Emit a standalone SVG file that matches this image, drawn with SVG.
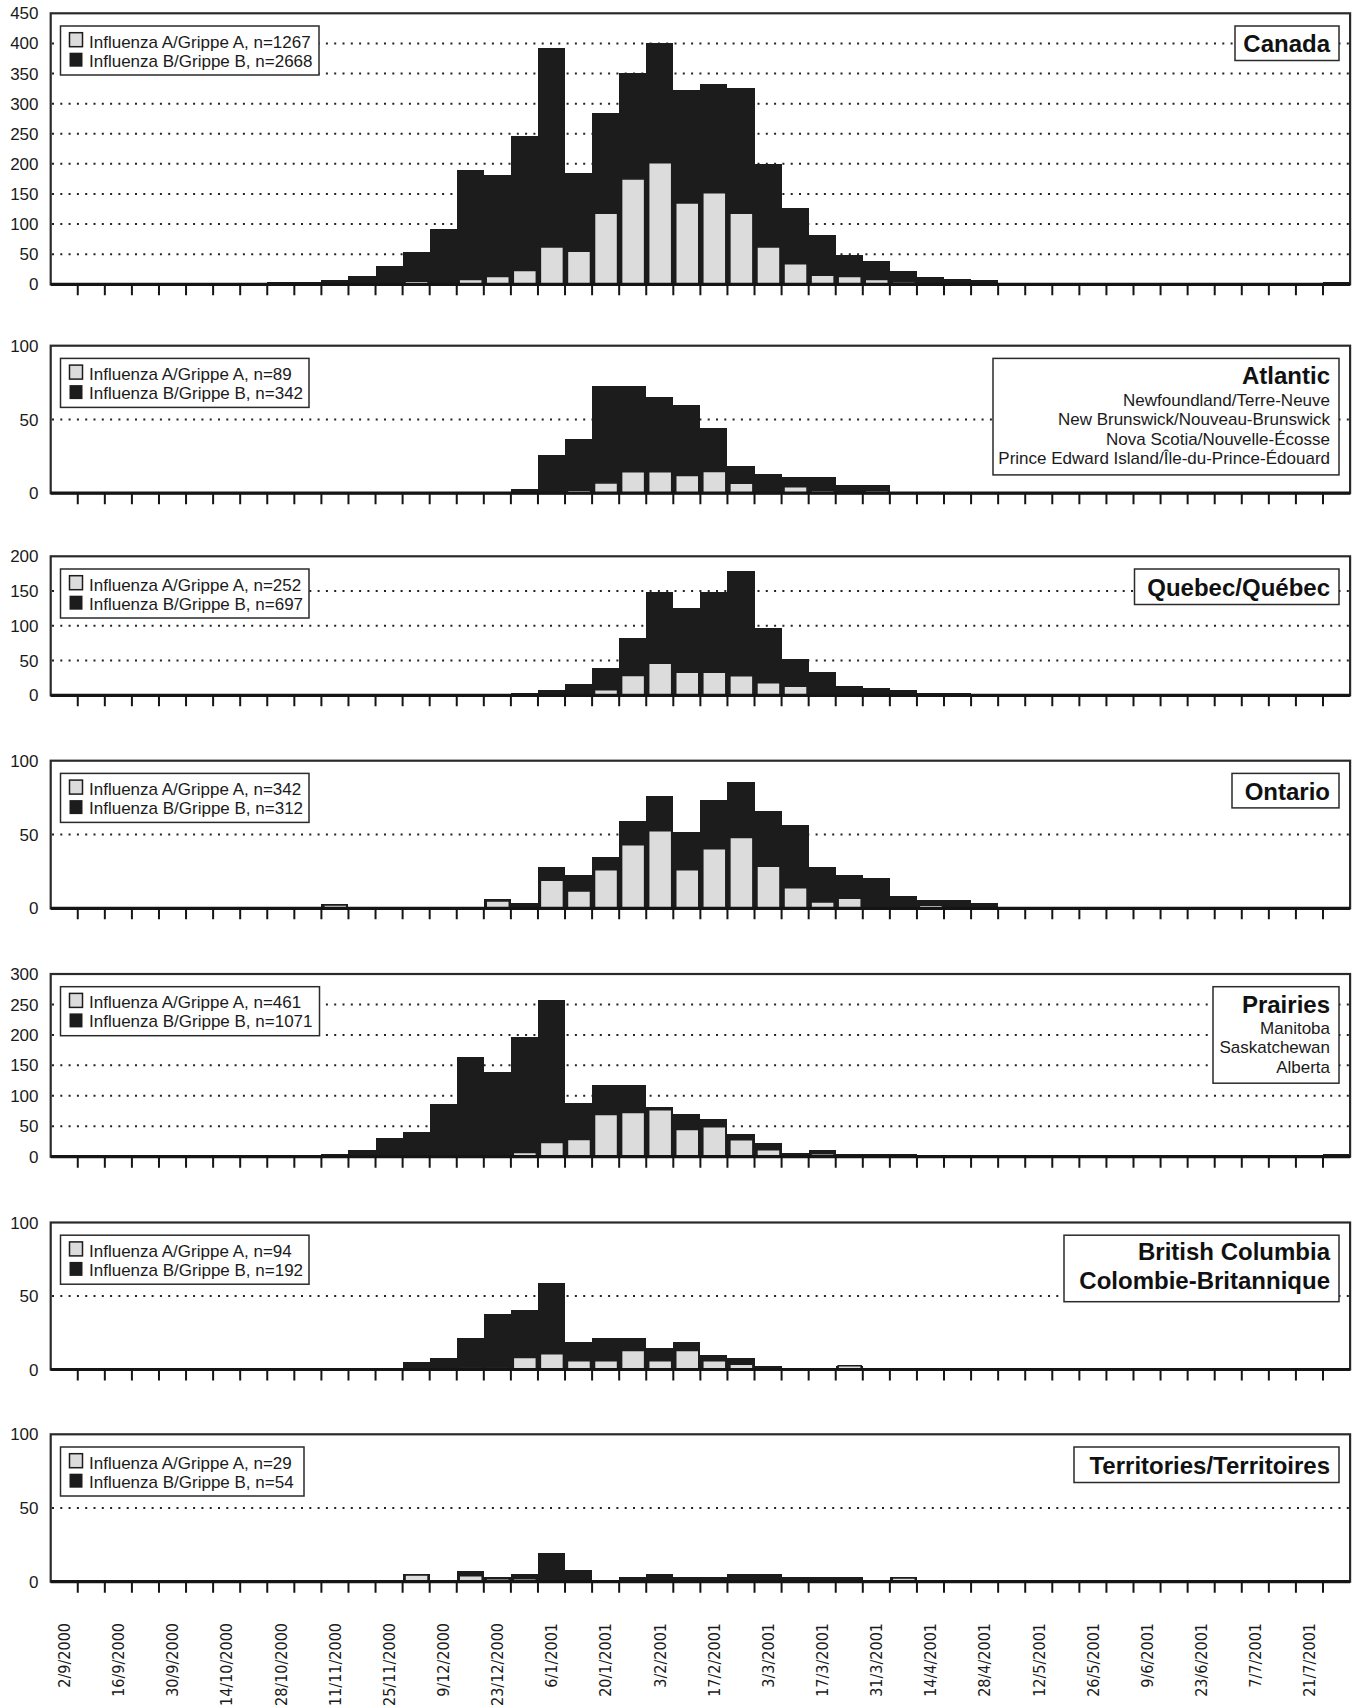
<svg xmlns="http://www.w3.org/2000/svg" xmlns:xlink="http://www.w3.org/1999/xlink" width="1356" height="1707" viewBox="0 0 1356 1707">
<style>
.bg{fill:#fff}
.frame{fill:none;stroke:#2a2a2a;stroke-width:2.2}
.axis{stroke:#151515;stroke-width:3.2}
.tick{fill:none;stroke:#151515;stroke-width:2}
.grid{fill:none;stroke:#222;stroke-width:2;stroke-dasharray:2 6.3}
.blk rect{fill:#1c1c1c;shape-rendering:crispEdges}
.lt rect{fill:#dcdcdc;stroke:#1c1c1c;stroke-width:1.5;vector-effect:non-scaling-stroke}
.box{fill:#fff;stroke:#2a2a2a;stroke-width:1.5}
.swA{fill:#dcdcdc;stroke:#1c1c1c;stroke-width:1.5}
.swB{fill:#1c1c1c}
.lg{font-family:"Liberation Sans",Arial,sans-serif;font-size:17px;fill:#1a1a1a}
.sub{font-family:"Liberation Sans",Arial,sans-serif;font-size:17px;fill:#1a1a1a;text-anchor:end}
.ti{font-family:"Liberation Sans",Arial,sans-serif;font-size:24px;font-weight:bold;fill:#111;text-anchor:end}
.yl{font-family:"Liberation Sans",Arial,sans-serif;font-size:17px;fill:#1a1a1a;text-anchor:end}
.dl{font-family:"DejaVu Sans Condensed","DejaVu Sans",sans-serif;font-size:16px;fill:#1a1a1a;text-anchor:end}
</style>
<defs>
<path id="ticks" class="tick" d="M77.77 0v11m27.07-11v11m27.07-11v11m27.07-11v11m27.07-11v11m27.07-11v11m27.07-11v11m27.07-11v11m27.07-11v11m27.07-11v11m27.07-11v11m27.07-11v11m27.07-11v11m27.07-11v11m27.07-11v11m27.07-11v11m27.07-11v11m27.07-11v11m27.07-11v11m27.07-11v11m27.07-11v11m27.07-11v11m27.07-11v11m27.07-11v11m27.07-11v11m27.07-11v11m27.07-11v11m27.07-11v11m27.07-11v11m27.07-11v11m27.07-11v11m27.07-11v11m27.07-11v11m27.07-11v11m27.07-11v11m27.07-11v11m27.07-11v11m27.07-11v11m27.07-11v11m27.07-11v11m27.07-11v11m27.07-11v11m27.07-11v11m27.07-11v11m27.07-11v11m27.07-11v11m27.07-11v11"/>
</defs>
<rect class="bg" x="0" y="0" width="1356" height="1707"/>

<!-- CANADA -->
<g id="panel-canada">
<path class="grid" d="M52 254.19H1349M52 224.08H1349M52 193.97H1349M52 163.86H1349M52 133.75H1349M52 103.64H1349M52 73.53H1349M52 43.42H1349"/>
<g class="blk" transform="translate(50.7 284.3) scale(27.07 -0.6022)">
<rect x="8" y="0" width="1" height="3"/><rect x="9" y="0" width="1" height="3"/><rect x="10" y="0" width="1" height="7"/><rect x="11" y="0" width="1" height="14"/><rect x="12" y="0" width="1" height="31"/><rect x="13" y="0" width="1" height="54"/><rect x="14" y="0" width="1" height="92"/><rect x="15" y="0" width="1" height="190"/><rect x="16" y="0" width="1" height="182"/><rect x="17" y="0" width="1" height="247"/><rect x="18" y="0" width="1" height="392"/><rect x="19" y="0" width="1" height="184"/><rect x="20" y="0" width="1" height="284"/><rect x="21" y="0" width="1" height="351"/><rect x="22" y="0" width="1" height="401"/><rect x="23" y="0" width="1" height="322"/><rect x="24" y="0" width="1" height="333"/><rect x="25" y="0" width="1" height="326"/><rect x="26" y="0" width="1" height="200"/><rect x="27" y="0" width="1" height="127"/><rect x="28" y="0" width="1" height="82"/><rect x="29" y="0" width="1" height="49"/><rect x="30" y="0" width="1" height="39"/><rect x="31" y="0" width="1" height="22"/><rect x="32" y="0" width="1" height="12"/><rect x="33" y="0" width="1" height="9"/><rect x="34" y="0" width="1" height="7"/><rect x="47" y="0" width="1" height="4"/>
</g>
<g class="lt" transform="translate(50.7 284.3) scale(27.07 -0.6022)">
<rect x="13.09" y="0" width="0.85" height="5"/><rect x="15.09" y="0" width="0.85" height="8"/><rect x="16.09" y="0" width="0.85" height="13"/><rect x="17.09" y="0" width="0.85" height="23"/><rect x="18.09" y="0" width="0.85" height="62"/><rect x="19.09" y="0" width="0.85" height="55"/><rect x="20.09" y="0" width="0.85" height="118"/><rect x="21.09" y="0" width="0.85" height="175"/><rect x="22.09" y="0" width="0.85" height="202"/><rect x="23.09" y="0" width="0.85" height="135"/><rect x="24.09" y="0" width="0.85" height="152"/><rect x="25.09" y="0" width="0.85" height="118"/><rect x="26.09" y="0" width="0.85" height="62"/><rect x="27.09" y="0" width="0.85" height="34"/><rect x="28.09" y="0" width="0.85" height="15"/><rect x="29.09" y="0" width="0.85" height="13"/><rect x="30.09" y="0" width="0.85" height="8"/><rect x="31.09" y="0" width="0.85" height="4"/><rect x="32.09" y="0" width="0.85" height="3"/><rect x="33.09" y="0" width="0.85" height="2"/>
</g>
<g transform="translate(0 26)">
<rect class="box" x="60.5" y="0" width="258.5" height="49"/>
<rect class="swA" x="69.5" y="6.7" width="13" height="14"/><rect class="swB" x="69.5" y="26.7" width="13" height="14"/>
<text class="lg" x="89" y="21.7">Influenza A/Grippe A, n=1267</text>
<text class="lg" x="89" y="40.7">Influenza B/Grippe B, n=2668</text>
</g>
<g transform="translate(0 26)">
<rect class="box" x="1235" y="0" width="104" height="34.5"/>
<text class="ti" x="1330" y="26">Canada</text>
</g>
<rect class="frame" x="50.7" y="13.3" width="1299.4" height="271"/>
<line class="axis" x1="50.7" y1="284.3" x2="1350.1" y2="284.3"/>
<use xlink:href="#ticks" href="#ticks" transform="translate(0 284.3)"/>
<text class="yl" x="38.5" y="290.3">0</text><text class="yl" x="38.5" y="260.2">50</text><text class="yl" x="38.5" y="230.1">100</text><text class="yl" x="38.5" y="200">150</text><text class="yl" x="38.5" y="169.9">200</text><text class="yl" x="38.5" y="139.8">250</text><text class="yl" x="38.5" y="109.6">300</text><text class="yl" x="38.5" y="79.5">350</text><text class="yl" x="38.5" y="49.4">400</text><text class="yl" x="38.5" y="19.3">450</text>
</g>

<!-- ATLANTIC -->
<g id="panel-atlantic">
<path class="grid" d="M52 419.45H1349"/>
<g class="blk" transform="translate(50.7 493.2) scale(27.07 -1.475)">
<rect x="17" y="0" width="1" height="3"/><rect x="18" y="0" width="1" height="26"/><rect x="19" y="0" width="1" height="37"/><rect x="20" y="0" width="1" height="73"/><rect x="21" y="0" width="1" height="73"/><rect x="22" y="0" width="1" height="65"/><rect x="23" y="0" width="1" height="60"/><rect x="24" y="0" width="1" height="44"/><rect x="25" y="0" width="1" height="18.5"/><rect x="26" y="0" width="1" height="13.3"/><rect x="27" y="0" width="1" height="10.9"/><rect x="28" y="0" width="1" height="10.9"/><rect x="29" y="0" width="1" height="5.7"/><rect x="30" y="0" width="1" height="5.7"/>
</g>
<g class="lt" transform="translate(50.7 493.2) scale(27.07 -1.475)">
<rect x="19.09" y="0" width="0.85" height="2"/><rect x="20.09" y="0" width="0.85" height="7"/><rect x="21.09" y="0" width="0.85" height="14.5"/><rect x="22.09" y="0" width="0.85" height="14.5"/><rect x="23.09" y="0" width="0.85" height="12"/><rect x="24.09" y="0" width="0.85" height="14.7"/><rect x="25.09" y="0" width="0.85" height="6.8"/><rect x="27.09" y="0" width="0.85" height="4.3"/><rect x="28.09" y="0" width="0.85" height="1.6"/><rect x="30.09" y="0" width="0.85" height="1.6"/>
</g>
<g transform="translate(0 358.4)">
<rect class="box" x="60.5" y="0" width="248.5" height="49"/>
<rect class="swA" x="69.5" y="6.7" width="13" height="14"/><rect class="swB" x="69.5" y="26.7" width="13" height="14"/>
<text class="lg" x="89" y="21.7">Influenza A/Grippe A, n=89</text>
<text class="lg" x="89" y="40.7">Influenza B/Grippe B, n=342</text>
</g>
<g transform="translate(0 358.4)">
<rect class="box" x="993" y="0" width="346" height="116.5"/>
<text class="ti" x="1330" y="26">Atlantic</text>
<text class="sub" x="1330" y="47.5">Newfoundland/Terre-Neuve</text>
<text class="sub" x="1330" y="67">New Brunswick/Nouveau-Brunswick</text>
<text class="sub" x="1330" y="86.5">Nova Scotia/Nouvelle-Écosse</text>
<text class="sub" x="1330" y="106">Prince Edward Island/Île-du-Prince-Édouard</text>
</g>
<rect class="frame" x="50.7" y="345.7" width="1299.4" height="147.5"/>
<line class="axis" x1="50.7" y1="493.2" x2="1350.1" y2="493.2"/>
<use xlink:href="#ticks" href="#ticks" transform="translate(0 493.2)"/>
<text class="yl" x="38.5" y="499.2">0</text><text class="yl" x="38.5" y="425.5">50</text><text class="yl" x="38.5" y="351.7">100</text>
</g>

<!-- QUEBEC -->
<g id="panel-quebec">
<path class="grid" d="M52 660.55H1349M52 625.8H1349M52 591.05H1349"/>
<g class="blk" transform="translate(50.7 695.3) scale(27.07 -0.695)">
<rect x="17" y="0" width="1" height="3"/><rect x="18" y="0" width="1" height="8"/><rect x="19" y="0" width="1" height="16"/><rect x="20" y="0" width="1" height="39"/><rect x="21" y="0" width="1" height="82"/><rect x="22" y="0" width="1" height="148"/><rect x="23" y="0" width="1" height="126"/><rect x="24" y="0" width="1" height="148"/><rect x="25" y="0" width="1" height="179"/><rect x="26" y="0" width="1" height="97"/><rect x="27" y="0" width="1" height="52"/><rect x="28" y="0" width="1" height="34"/><rect x="29" y="0" width="1" height="13.5"/><rect x="30" y="0" width="1" height="11"/><rect x="31" y="0" width="1" height="8"/><rect x="32" y="0" width="1" height="3.5"/><rect x="33" y="0" width="1" height="3"/>
</g>
<g class="lt" transform="translate(50.7 695.3) scale(27.07 -0.695)">
<rect x="18.09" y="0" width="0.85" height="2.5"/><rect x="19.09" y="0" width="0.85" height="3"/><rect x="20.09" y="0" width="0.85" height="8"/><rect x="21.09" y="0" width="0.85" height="28.5"/><rect x="22.09" y="0" width="0.85" height="46"/><rect x="23.09" y="0" width="0.85" height="33"/><rect x="24.09" y="0" width="0.85" height="33"/><rect x="25.09" y="0" width="0.85" height="28"/><rect x="26.09" y="0" width="0.85" height="18"/><rect x="27.09" y="0" width="0.85" height="13"/><rect x="30.09" y="0" width="0.85" height="2.5"/>
</g>
<g transform="translate(0 569)">
<rect class="box" x="60.5" y="0" width="248.5" height="49"/>
<rect class="swA" x="69.5" y="6.7" width="13" height="14"/><rect class="swB" x="69.5" y="26.7" width="13" height="14"/>
<text class="lg" x="89" y="21.7">Influenza A/Grippe A, n=252</text>
<text class="lg" x="89" y="40.7">Influenza B/Grippe B, n=697</text>
</g>
<g transform="translate(0 569)">
<rect class="box" x="1134.5" y="0" width="204.5" height="35.5"/>
<text class="ti" x="1330" y="27">Quebec/Québec</text>
</g>
<rect class="frame" x="50.7" y="556.3" width="1299.4" height="139"/>
<line class="axis" x1="50.7" y1="695.3" x2="1350.1" y2="695.3"/>
<use xlink:href="#ticks" href="#ticks" transform="translate(0 695.3)"/>
<text class="yl" x="38.5" y="701.3">0</text><text class="yl" x="38.5" y="666.6">50</text><text class="yl" x="38.5" y="631.8">100</text><text class="yl" x="38.5" y="597.1">150</text><text class="yl" x="38.5" y="562.3">200</text>
</g>

<!-- ONTARIO -->
<g id="panel-ontario">
<path class="grid" d="M52 834.5H1349"/>
<g class="blk" transform="translate(50.7 908.3) scale(27.07 -1.476)">
<rect x="10" y="0" width="1" height="3"/><rect x="16" y="0" width="1" height="6"/><rect x="17" y="0" width="1" height="3.4"/><rect x="18" y="0" width="1" height="27.8"/><rect x="19" y="0" width="1" height="22.6"/><rect x="20" y="0" width="1" height="34.8"/><rect x="21" y="0" width="1" height="59"/><rect x="22" y="0" width="1" height="76"/><rect x="23" y="0" width="1" height="52"/><rect x="24" y="0" width="1" height="73.6"/><rect x="25" y="0" width="1" height="85.8"/><rect x="26" y="0" width="1" height="66"/><rect x="27" y="0" width="1" height="56.7"/><rect x="28" y="0" width="1" height="27.8"/><rect x="29" y="0" width="1" height="22.8"/><rect x="30" y="0" width="1" height="20.3"/><rect x="31" y="0" width="1" height="8.4"/><rect x="32" y="0" width="1" height="5.6"/><rect x="33" y="0" width="1" height="5.6"/><rect x="34" y="0" width="1" height="3.4"/>
</g>
<g class="lt" transform="translate(50.7 908.3) scale(27.07 -1.476)">
<rect x="10.09" y="0" width="0.85" height="2.2"/><rect x="16.09" y="0" width="0.85" height="5"/><rect x="18.09" y="0" width="0.85" height="19"/><rect x="19.09" y="0" width="0.85" height="11.7"/><rect x="20.09" y="0" width="0.85" height="26.2"/><rect x="21.09" y="0" width="0.85" height="43"/><rect x="22.09" y="0" width="0.85" height="52.6"/><rect x="23.09" y="0" width="0.85" height="26.2"/><rect x="24.09" y="0" width="0.85" height="40.4"/><rect x="25.09" y="0" width="0.85" height="47.9"/><rect x="26.09" y="0" width="0.85" height="28.5"/><rect x="27.09" y="0" width="0.85" height="14"/><rect x="28.09" y="0" width="0.85" height="4.3"/><rect x="29.09" y="0" width="0.85" height="6.8"/><rect x="32.09" y="0" width="0.85" height="2"/>
</g>
<g transform="translate(0 773.4)">
<rect class="box" x="60.5" y="0" width="248.5" height="49"/>
<rect class="swA" x="69.5" y="6.7" width="13" height="14"/><rect class="swB" x="69.5" y="26.7" width="13" height="14"/>
<text class="lg" x="89" y="21.7">Influenza A/Grippe A, n=342</text>
<text class="lg" x="89" y="40.7">Influenza B/Grippe B, n=312</text>
</g>
<g transform="translate(0 773.4)">
<rect class="box" x="1232" y="0" width="107" height="34.5"/>
<text class="ti" x="1330" y="26.5">Ontario</text>
</g>
<rect class="frame" x="50.7" y="760.7" width="1299.4" height="147.6"/>
<line class="axis" x1="50.7" y1="908.3" x2="1350.1" y2="908.3"/>
<use xlink:href="#ticks" href="#ticks" transform="translate(0 908.3)"/>
<text class="yl" x="38.5" y="914.3">0</text><text class="yl" x="38.5" y="840.5">50</text><text class="yl" x="38.5" y="766.7">100</text>
</g>

<!-- PRAIRIES -->
<g id="panel-prairies">
<path class="grid" d="M52 1126.25H1349M52 1095.8H1349M52 1065.35H1349M52 1034.9H1349M52 1004.45H1349"/>
<g class="blk" transform="translate(50.7 1156.7) scale(27.07 -0.609)">
<rect x="10" y="0" width="1" height="3.8"/><rect x="11" y="0" width="1" height="11"/><rect x="12" y="0" width="1" height="30"/><rect x="13" y="0" width="1" height="41"/><rect x="14" y="0" width="1" height="86"/><rect x="15" y="0" width="1" height="164.5"/><rect x="16" y="0" width="1" height="139"/><rect x="17" y="0" width="1" height="197"/><rect x="18" y="0" width="1" height="258"/><rect x="19" y="0" width="1" height="87.4"/><rect x="20" y="0" width="1" height="118"/><rect x="21" y="0" width="1" height="118"/><rect x="22" y="0" width="1" height="81"/><rect x="23" y="0" width="1" height="69.4"/><rect x="24" y="0" width="1" height="61.7"/><rect x="25" y="0" width="1" height="36.6"/><rect x="26" y="0" width="1" height="22.4"/><rect x="27" y="0" width="1" height="6.6"/><rect x="28" y="0" width="1" height="10.4"/><rect x="29" y="0" width="1" height="3.8"/><rect x="30" y="0" width="1" height="3.8"/><rect x="31" y="0" width="1" height="3.8"/><rect x="47" y="0" width="1" height="3.8"/>
</g>
<g class="lt" transform="translate(50.7 1156.7) scale(27.07 -0.609)">
<rect x="16.09" y="0" width="0.85" height="2.7"/><rect x="17.09" y="0" width="0.85" height="7"/><rect x="18.09" y="0" width="0.85" height="23.5"/><rect x="19.09" y="0" width="0.85" height="28.4"/><rect x="20.09" y="0" width="0.85" height="69.4"/><rect x="21.09" y="0" width="0.85" height="72.7"/><rect x="22.09" y="0" width="0.85" height="77"/><rect x="23.09" y="0" width="0.85" height="44.8"/><rect x="24.09" y="0" width="0.85" height="49"/><rect x="25.09" y="0" width="0.85" height="27.9"/><rect x="26.09" y="0" width="0.85" height="11.5"/><rect x="27.09" y="0" width="0.85" height="3.8"/><rect x="28.09" y="0" width="0.85" height="4.9"/>
</g>
<g transform="translate(0 986.7)">
<rect class="box" x="60.5" y="0" width="259" height="49"/>
<rect class="swA" x="69.5" y="6.7" width="13" height="14"/><rect class="swB" x="69.5" y="26.7" width="13" height="14"/>
<text class="lg" x="89" y="21.7">Influenza A/Grippe A, n=461</text>
<text class="lg" x="89" y="40.7">Influenza B/Grippe B, n=1071</text>
</g>
<g transform="translate(0 986.7)">
<rect class="box" x="1213" y="0" width="126" height="96.5"/>
<text class="ti" x="1330" y="26">Prairies</text>
<text class="sub" x="1330" y="47">Manitoba</text>
<text class="sub" x="1330" y="66.5">Saskatchewan</text>
<text class="sub" x="1330" y="86">Alberta</text>
</g>
<rect class="frame" x="50.7" y="974" width="1299.4" height="182.7"/>
<line class="axis" x1="50.7" y1="1156.7" x2="1350.1" y2="1156.7"/>
<use xlink:href="#ticks" href="#ticks" transform="translate(0 1156.7)"/>
<text class="yl" x="38.5" y="1162.7">0</text><text class="yl" x="38.5" y="1132.3">50</text><text class="yl" x="38.5" y="1101.8">100</text><text class="yl" x="38.5" y="1071.4">150</text><text class="yl" x="38.5" y="1040.9">200</text><text class="yl" x="38.5" y="1010.5">250</text><text class="yl" x="38.5" y="980">300</text>
</g>

<!-- BRITISH COLUMBIA -->
<g id="panel-bc">
<path class="grid" d="M52 1296H1349"/>
<g class="blk" transform="translate(50.7 1369.5) scale(27.07 -1.47)">
<rect x="13" y="0" width="1" height="5"/><rect x="14" y="0" width="1" height="7.5"/><rect x="15" y="0" width="1" height="21.6"/><rect x="16" y="0" width="1" height="37.7"/><rect x="17" y="0" width="1" height="40.2"/><rect x="18" y="0" width="1" height="58.9"/><rect x="19" y="0" width="1" height="19"/><rect x="20" y="0" width="1" height="21.4"/><rect x="21" y="0" width="1" height="21.4"/><rect x="22" y="0" width="1" height="14.5"/><rect x="23" y="0" width="1" height="19"/><rect x="24" y="0" width="1" height="9.8"/><rect x="25" y="0" width="1" height="7.5"/><rect x="26" y="0" width="1" height="2.7"/><rect x="29" y="0" width="1" height="2.7"/>
</g>
<g class="lt" transform="translate(50.7 1369.5) scale(27.07 -1.47)">
<rect x="15.09" y="0" width="0.85" height="1.1"/><rect x="16.09" y="0" width="0.85" height="1.1"/><rect x="17.09" y="0" width="0.85" height="8.2"/><rect x="18.09" y="0" width="0.85" height="10.7"/><rect x="19.09" y="0" width="0.85" height="5.9"/><rect x="20.09" y="0" width="0.85" height="5.9"/><rect x="21.09" y="0" width="0.85" height="13"/><rect x="22.09" y="0" width="0.85" height="5.9"/><rect x="23.09" y="0" width="0.85" height="13"/><rect x="24.09" y="0" width="0.85" height="5.9"/><rect x="25.09" y="0" width="0.85" height="3.6"/><rect x="26.09" y="0" width="0.85" height="1.5"/><rect x="29.09" y="0" width="0.85" height="2.5"/>
</g>
<g transform="translate(0 1235.2)">
<rect class="box" x="60.5" y="0" width="248.5" height="49"/>
<rect class="swA" x="69.5" y="6.7" width="13" height="14"/><rect class="swB" x="69.5" y="26.7" width="13" height="14"/>
<text class="lg" x="89" y="21.7">Influenza A/Grippe A, n=94</text>
<text class="lg" x="89" y="40.7">Influenza B/Grippe B, n=192</text>
</g>
<g transform="translate(0 1235.2)">
<rect class="box" x="1064" y="0" width="275" height="66.5"/>
<text class="ti" x="1330" y="25">British Columbia</text>
<text class="ti" x="1330" y="54">Colombie-Britannique</text>
</g>
<rect class="frame" x="50.7" y="1222.5" width="1299.4" height="147"/>
<line class="axis" x1="50.7" y1="1369.5" x2="1350.1" y2="1369.5"/>
<use xlink:href="#ticks" href="#ticks" transform="translate(0 1369.5)"/>
<text class="yl" x="38.5" y="1375.5">0</text><text class="yl" x="38.5" y="1302">50</text><text class="yl" x="38.5" y="1228.5">100</text>
</g>

<!-- TERRITORIES -->
<g id="panel-territories">
<path class="grid" d="M52 1508H1349"/>
<g class="blk" transform="translate(50.7 1581.7) scale(27.07 -1.474)">
<rect x="13" y="0" width="1" height="5.2"/><rect x="15" y="0" width="1" height="7.5"/><rect x="16" y="0" width="1" height="2.9"/><rect x="17" y="0" width="1" height="5.2"/><rect x="18" y="0" width="1" height="19.2"/><rect x="19" y="0" width="1" height="7.7"/><rect x="21" y="0" width="1" height="2.9"/><rect x="22" y="0" width="1" height="5.2"/><rect x="23" y="0" width="1" height="2.9"/><rect x="24" y="0" width="1" height="2.9"/><rect x="25" y="0" width="1" height="5.2"/><rect x="26" y="0" width="1" height="5.2"/><rect x="27" y="0" width="1" height="2.9"/><rect x="28" y="0" width="1" height="2.9"/><rect x="29" y="0" width="1" height="2.9"/><rect x="31" y="0" width="1" height="2.9"/>
</g>
<g class="lt" transform="translate(50.7 1581.7) scale(27.07 -1.474)">
<rect x="13.09" y="0" width="0.85" height="4.5"/><rect x="15.09" y="0" width="0.85" height="4"/><rect x="16.09" y="0" width="0.85" height="2"/><rect x="17.09" y="0" width="0.85" height="2"/><rect x="18.09" y="0" width="0.85" height="1.6"/><rect x="23.09" y="0" width="0.85" height="1.6"/><rect x="31.09" y="0" width="0.85" height="2.5"/>
</g>
<g transform="translate(0 1447)">
<rect class="box" x="60.5" y="0" width="243.5" height="49"/>
<rect class="swA" x="69.5" y="6.7" width="13" height="14"/><rect class="swB" x="69.5" y="26.7" width="13" height="14"/>
<text class="lg" x="89" y="21.7">Influenza A/Grippe A, n=29</text>
<text class="lg" x="89" y="40.7">Influenza B/Grippe B, n=54</text>
</g>
<g transform="translate(0 1447)">
<rect class="box" x="1074" y="0" width="265" height="35.5"/>
<text class="ti" x="1330" y="27">Territories/Territoires</text>
</g>
<rect class="frame" x="50.7" y="1434.3" width="1299.4" height="147.4"/>
<line class="axis" x1="50.7" y1="1581.7" x2="1350.1" y2="1581.7"/>
<use xlink:href="#ticks" href="#ticks" transform="translate(0 1581.7)"/>
<text class="yl" x="38.5" y="1587.7">0</text><text class="yl" x="38.5" y="1514">50</text><text class="yl" x="38.5" y="1440.3">100</text>
</g>

<!-- DATE LABELS -->
<g id="x-labels">
<text class="dl" transform="translate(70 1623) rotate(-90)">2/9/2000</text>
<text class="dl" transform="translate(124.1 1623) rotate(-90)">16/9/2000</text>
<text class="dl" transform="translate(178.3 1623) rotate(-90)">30/9/2000</text>
<text class="dl" transform="translate(232.4 1623) rotate(-90)">14/10/2000</text>
<text class="dl" transform="translate(286.6 1623) rotate(-90)">28/10/2000</text>
<text class="dl" transform="translate(340.7 1623) rotate(-90)">11/11/2000</text>
<text class="dl" transform="translate(394.8 1623) rotate(-90)">25/11/2000</text>
<text class="dl" transform="translate(449 1623) rotate(-90)">9/12/2000</text>
<text class="dl" transform="translate(503.1 1623) rotate(-90)">23/12/2000</text>
<text class="dl" transform="translate(557.3 1623) rotate(-90)">6/1/2001</text>
<text class="dl" transform="translate(611.4 1623) rotate(-90)">20/1/2001</text>
<text class="dl" transform="translate(665.5 1623) rotate(-90)">3/2/2001</text>
<text class="dl" transform="translate(719.7 1623) rotate(-90)">17/2/2001</text>
<text class="dl" transform="translate(773.8 1623) rotate(-90)">3/3/2001</text>
<text class="dl" transform="translate(828 1623) rotate(-90)">17/3/2001</text>
<text class="dl" transform="translate(882.1 1623) rotate(-90)">31/3/2001</text>
<text class="dl" transform="translate(936.2 1623) rotate(-90)">14/4/2001</text>
<text class="dl" transform="translate(990.4 1623) rotate(-90)">28/4/2001</text>
<text class="dl" transform="translate(1044.5 1623) rotate(-90)">12/5/2001</text>
<text class="dl" transform="translate(1098.7 1623) rotate(-90)">26/5/2001</text>
<text class="dl" transform="translate(1152.8 1623) rotate(-90)">9/6/2001</text>
<text class="dl" transform="translate(1206.9 1623) rotate(-90)">23/6/2001</text>
<text class="dl" transform="translate(1261.1 1623) rotate(-90)">7/7/2001</text>
<text class="dl" transform="translate(1315.2 1623) rotate(-90)">21/7/2001</text>
</g>
</svg>
